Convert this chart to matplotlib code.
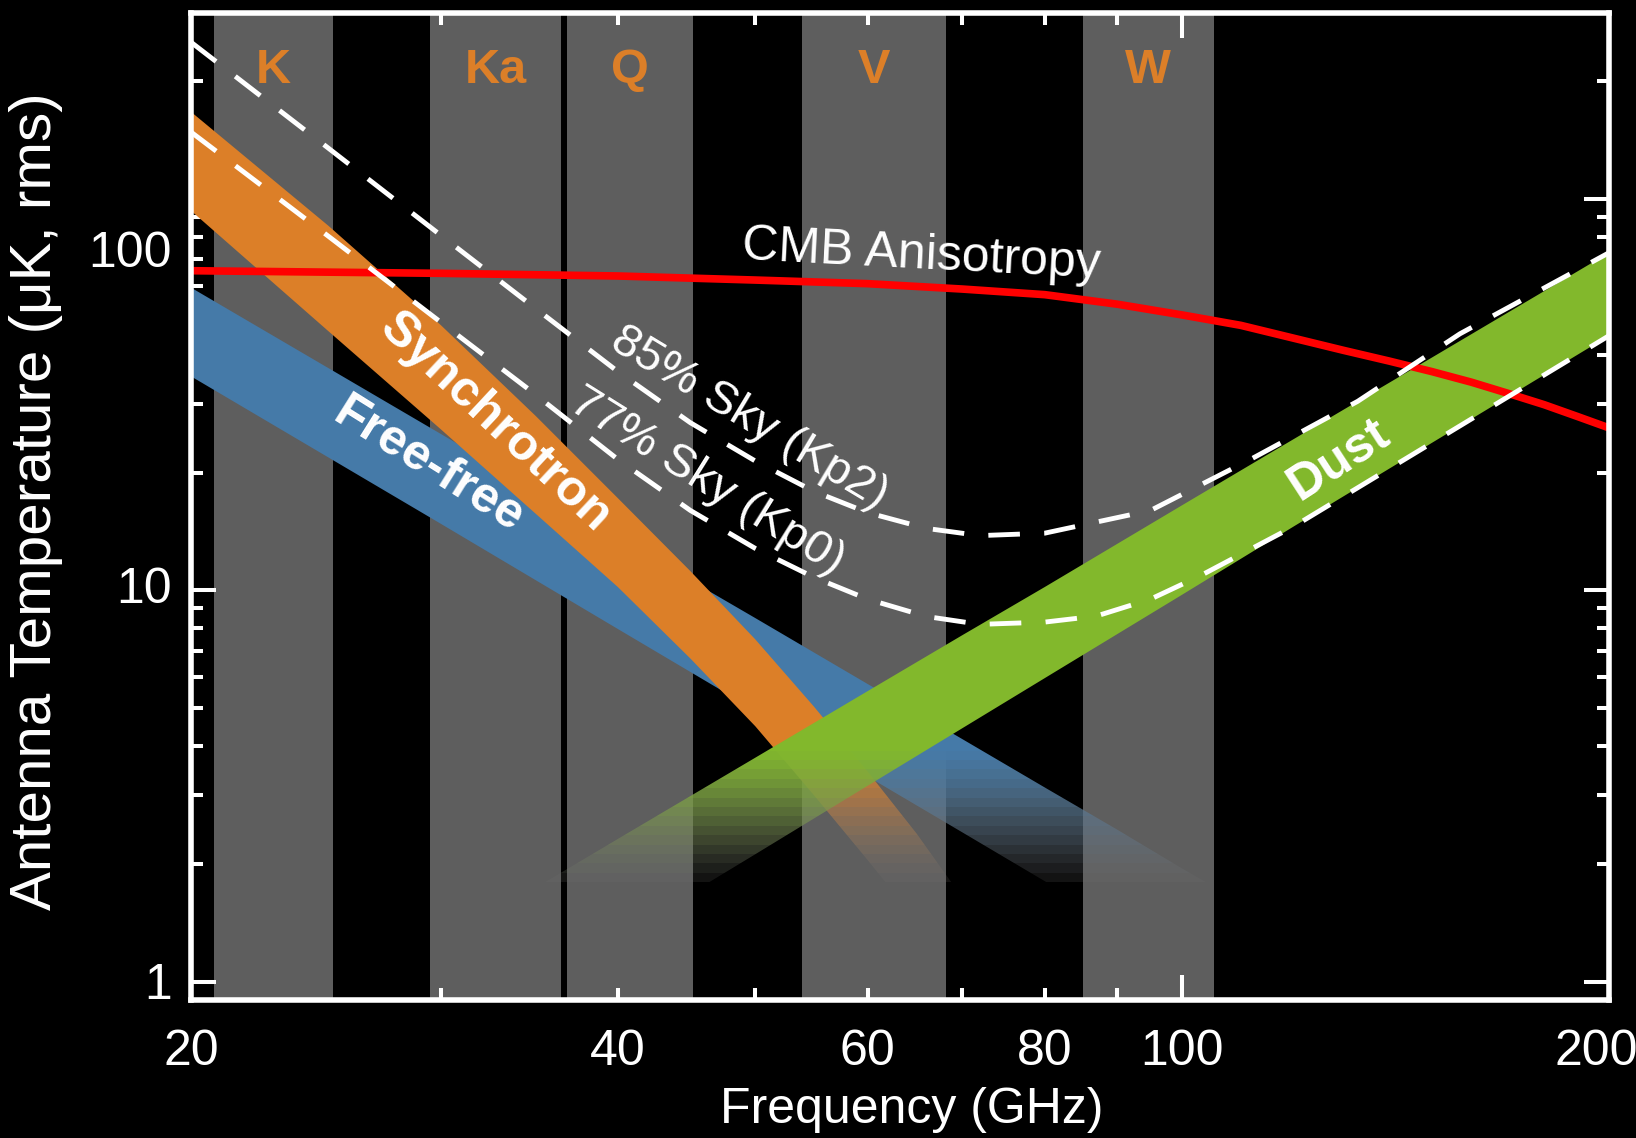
import numpy as np
import matplotlib
matplotlib.use("Agg")
import matplotlib.pyplot as plt
from matplotlib import transforms
from matplotlib.colors import to_rgb
from matplotlib.ticker import FixedLocator, NullFormatter

plt.rcParams['font.family'] = ['Liberation Sans', 'DejaVu Sans']

# WMAP frequency bands (GHz)
band_names = ["K", "Ka", "Q", "V", "W"]
band_lo = [20.75, 29.5, 36.8, 53.9, 85.1]
band_hi = [25.2, 36.5, 45.2, 68.1, 105.3]

# CMB anisotropy (uK antenna temperature)
cmb_freq = [20, 30, 40, 50, 60, 70, 80, 90, 100, 110, 120, 130, 140, 150, 160, 170, 180, 190, 200]
cmb_temp = [65.5, 64.5, 63.5, 62.0, 60.7, 58.8, 56.9, 53.8, 50.5, 47.5, 44.0, 41.0, 38.5, 36.2, 34.0, 31.8, 29.8, 27.8, 26.0]

# synchrotron band
sync_freq = [20, 25, 30, 35, 40, 45, 50, 55, 60, 65, 70]
sync_hi = [166.7, 85.3, 47.6, 27.9, 17.2, 11.2, 7.5, 5.05, 3.45, 2.39, 1.64]
sync_lo = [93.2, 45.9, 25.8, 15.7, 10.2, 6.7, 4.5, 3.0, 2.05, 1.43, 1.0]

# free-free band
ff_freq = [20, 30, 40, 50, 60, 70, 80, 90, 100, 110]
ff_hi = [59.3, 25.1, 13.6, 8.5, 5.77, 4.17, 3.14, 2.45, 1.95, 1.6]
ff_lo = [35.2, 14.8, 7.97, 4.94, 3.35, 2.41, 1.81, 1.41, 1.12, 0.9]

# dust band
dust_freq = [30, 40, 50, 60, 70, 80, 100, 120, 150, 200]
dust_hi = [1.25, 2.32, 3.74, 5.53, 7.69, 10.2, 16.5, 24.4, 39.3, 72.8]
dust_lo = [0.69, 1.30, 2.12, 3.17, 4.45, 5.97, 9.75, 14.6, 23.8, 44.7]

# total foreground rms for the two sky cuts
kp2_freq = [20, 25, 30, 34.5, 40, 45, 50, 55, 60, 66, 72, 80, 95, 112, 133, 157, 200]
kp2_temp = [251, 134.6, 80.7, 54.6, 36.2, 26.8, 21.4, 17.9, 15.8, 14.4, 13.8, 14.0, 16.0, 21.7, 30.4, 45.2, 72.8]
kp0_freq = [20, 25, 30, 34.5, 40, 45, 50, 55, 60, 66, 72, 80, 87, 95, 103, 120, 150, 200]
kp0_temp = [148, 80.2, 48.4, 32.9, 21.6, 16.0, 12.8, 10.8, 9.5, 8.58, 8.19, 8.3, 8.6, 9.5, 10.9, 14.6, 23.8, 44.7]

xtick_major = [20, 100, 200]
xtick_minor = [30, 40, 50, 60, 70, 80, 90]
xtick_vals = [20, 40, 60, 80, 100, 200]
xtick_labels = ["20", "40", "60", "80", "100", "200"]
xtick_shift = [0, 0, 0, 0, 0, -9]   # points, keeps "200" inside the figure
ytick_vals = [1, 10, 100]
ytick_labels = ["1", "10", "100"]
ytick_shift = [-3, 0, -40]   # points

orange = "#dc7f28"
blue = "#457aa8"
green = "#82b82c"
grey = "#5e5e5e"

fig = plt.figure(figsize=(16.36, 11.38), dpi=100, facecolor="black")
ax = fig.add_axes([191 / 1636, 1 - 1000 / 1138, 1418 / 1636, 987 / 1138])
ax.set_facecolor("black")
ax.set_xscale("log")
ax.set_yscale("log")
ax.set_xlim(20, 200)
ax.set_ylim(0.9, 298)

for lo, hi, name in zip(band_lo, band_hi, band_names):
    ax.axvspan(lo, hi, facecolor=grey, edgecolor="none", zorder=1)
    ax.text(np.sqrt(lo * hi), 212, name, color=orange, fontsize=35, fontweight="bold",
            ha="center", va="center", zorder=2)

# bands are solid down to fade_top, then fade out in steps to fade_bottom
fade_top, fade_bottom = 3.9, 1.8
n_steps = 14
fade_grey = np.array([0.45, 0.45, 0.45])


def draw_band(freq, lo, hi, color, z):
    poly = ax.fill_between(freq, lo, hi, facecolor="none", edgecolor="none", zorder=z)
    clip = poly.get_paths()[0]
    solid = ax.axhspan(fade_top, 1000, facecolor=color, edgecolor="none", lw=0, zorder=z)
    solid.set_clip_path(clip, ax.transData)
    edges = np.geomspace(fade_top, fade_bottom, n_steps + 1)
    base = np.array(to_rgb(color))
    for i in range(n_steps):
        t = (i + 0.5) / n_steps
        c = base * (1 - t) + fade_grey * t
        a = 1 - 0.88 * t ** 1.5
        s = ax.axhspan(edges[i + 1], edges[i], facecolor=c, alpha=a,
                       edgecolor="none", lw=0, zorder=z)
        s.set_clip_path(clip, ax.transData)


draw_band(ff_freq, ff_lo, ff_hi, blue, 3)
draw_band(sync_freq, sync_lo, sync_hi, orange, 3.1)
draw_band(dust_freq, dust_lo, dust_hi, green, 3.2)

ax.plot(cmb_freq, cmb_temp, color="red", lw=5.5, zorder=5)
ax.plot(kp2_freq, kp2_temp, color="white", lw=3.5, dashes=(6.5, 5), zorder=6)
ax.plot(kp0_freq, kp0_temp, color="white", lw=3.5, dashes=(6.5, 5), zorder=6)

ax.text(65.5, 71.6, "CMB Anisotropy", color="white", fontsize=36, rotation=-3,
        ha="center", va="center", zorder=7)
ax.text(32.8, 26.8, "Synchrotron", color="white", fontsize=36, fontweight="bold",
        rotation=-43, ha="center", va="center", zorder=7)
ax.text(29.4, 20.8, "Free-free", color="white", fontsize=36, fontweight="bold",
        rotation=-32, ha="center", va="center", zorder=7)
ax.text(129, 21.5, "Dust", color="white", fontsize=36, fontweight="bold",
        rotation=33, ha="center", va="center", zorder=7)
ax.text(49.5, 27.6, "85% Sky (Kp2)", color="white", fontsize=34,
        rotation=-31, ha="center", va="center", zorder=5.5)
ax.text(46.2, 19.0, "77% Sky (Kp0)", color="white", fontsize=34,
        rotation=-32, ha="center", va="center", zorder=5.5)

for side in ax.spines.values():
    side.set_color("white")
    side.set_linewidth(4)
    side.set_zorder(10)

ax.xaxis.set_major_locator(FixedLocator(xtick_major))
ax.xaxis.set_minor_locator(FixedLocator(xtick_minor))
ax.yaxis.set_major_locator(FixedLocator(ytick_vals))
ax.yaxis.set_minor_locator(FixedLocator([v * s for v in [1, 10, 100] for s in range(2, 10)]))
for axis in (ax.xaxis, ax.yaxis):
    axis.set_major_formatter(NullFormatter())
    axis.set_minor_formatter(NullFormatter())

ax.tick_params(which="both", direction="in", top=True, right=True, color="white", width=2.9)
ax.tick_params(which="major", length=18)
ax.tick_params(which="minor", length=8.6)

# tick labels placed by hand
for v, lab, dx in zip(xtick_vals, xtick_labels, xtick_shift):
    tr = transforms.offset_copy(ax.get_xaxis_transform(), fig=fig, x=dx, y=-47, units="points")
    ax.text(v, 0, lab, transform=tr, color="white", fontsize=36,
            ha="center", va="baseline", clip_on=False)
for v, lab, dy in zip(ytick_vals, ytick_labels, ytick_shift):
    tr = transforms.offset_copy(ax.get_yaxis_transform(), fig=fig, x=0, y=dy, units="points")
    ax.text(-0.0134, v, lab, transform=tr, color="white", fontsize=36,
            ha="right", va="center", clip_on=False)

ax.set_xlabel("Frequency (GHz)", color="white", fontsize=36, va="center")
ax.xaxis.set_label_coords(0.508, -0.1115)
ax.set_ylabel("Antenna Temperature (\u03bcK, rms)", color="white", fontsize=42, va="center")
ax.yaxis.set_label_coords(-0.109, 0.5056)

fig.savefig("out.png", dpi=100, facecolor="black")
